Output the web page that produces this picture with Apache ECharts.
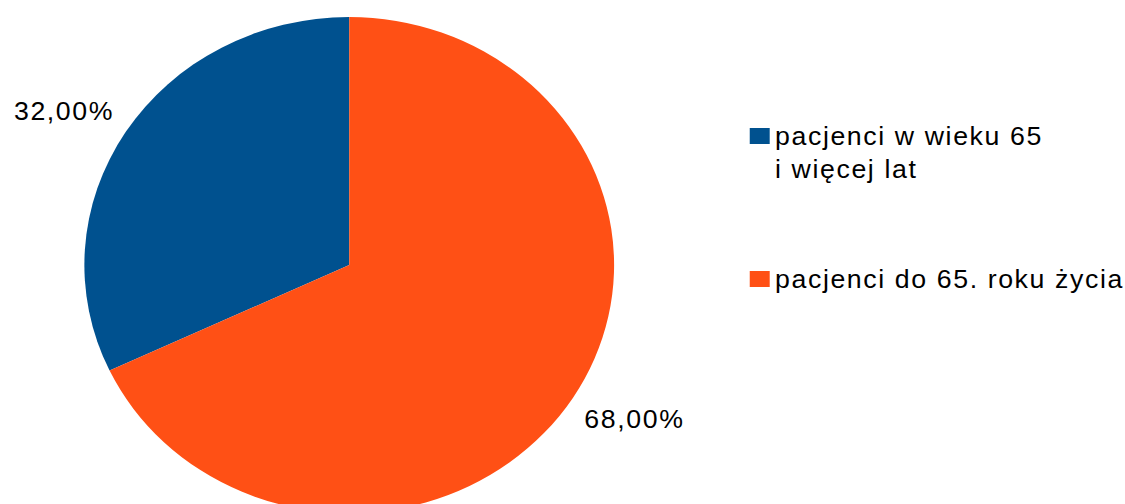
<!DOCTYPE html>
<html>
<head>
<meta charset="utf-8">
<script src="https://cdn.jsdelivr.net/npm/echarts@6/dist/echarts.min.js"></script>
<style>
html, body { margin: 0; padding: 0; background: #ffffff; overflow: hidden; }
#wrap { width: 1125px; height: 504px; position: relative; overflow: hidden; }
#chart {
  position: absolute; left: 0; top: 0;
  width: 1100px; height: 504px;
  transform: scaleX(1.068); transform-origin: 0 0;
  letter-spacing: 1.5px;
}
</style>
</head>
<body>
<div id="wrap"><div id="chart"></div></div>
<script>
// ---- data ----
const categories = ['pacjenci w wieku 65 i więcej lat', 'pacjenci do 65. roku życia'];
const legendLabels = ['pacjenci w wieku 65\ni więcej lat', 'pacjenci do 65. roku życia'];
const values = [32, 68];
const colors = ['#00518F', '#FF5015'];

const fmt = v => v.toFixed(2).replace('.', ',') + '%';
const legendFmt = n => {
  const s = legendLabels[categories.indexOf(n)];
  return s.indexOf('\n') >= 0 ? '\n' + s : s;
};

const chart = echarts.init(document.getElementById('chart'), null, { renderer: 'svg' });
const fontFamily = '"Liberation Sans", Arial, sans-serif';
const legendText = { fontFamily, fontSize: 25, lineHeight: 33, color: '#000000' };

const option = {
  animation: false,
  backgroundColor: '#ffffff',
  legend: [
    {
      data: [categories[0]],
      orient: 'vertical', left: 702, top: 86.5, padding: 0,
      icon: 'rect', itemWidth: 18.7, itemHeight: 16, selectedMode: false,
      formatter: legendFmt,
      textStyle: legendText
    },
    {
      data: [categories[1]],
      orient: 'vertical', left: 702, top: 262.5, padding: 0,
      icon: 'rect', itemWidth: 18.7, itemHeight: 16, selectedMode: false,
      formatter: legendFmt,
      textStyle: legendText
    }
  ],
  series: [{
    type: 'pie',
    center: [327, 265],
    radius: 248,
    startAngle: 90,
    clockwise: false,
    avoidLabelOverlap: false,
    silent: true,
    data: categories.map((c, i) => ({ name: c, value: values[i], itemStyle: { color: colors[i] } })),
    label: {
      show: true, position: 'outside',
      formatter: p => fmt(p.value),
      fontFamily, fontSize: 25, color: '#000000',
      distanceToLabelLine: -22.5,
      overflow: 'none'
    },
    labelLine: { show: false, length: 39.4, length2: 0 },
    emphasis: { disabled: true }
  }]
};
chart.setOption(option);
</script>
</body>
</html>
